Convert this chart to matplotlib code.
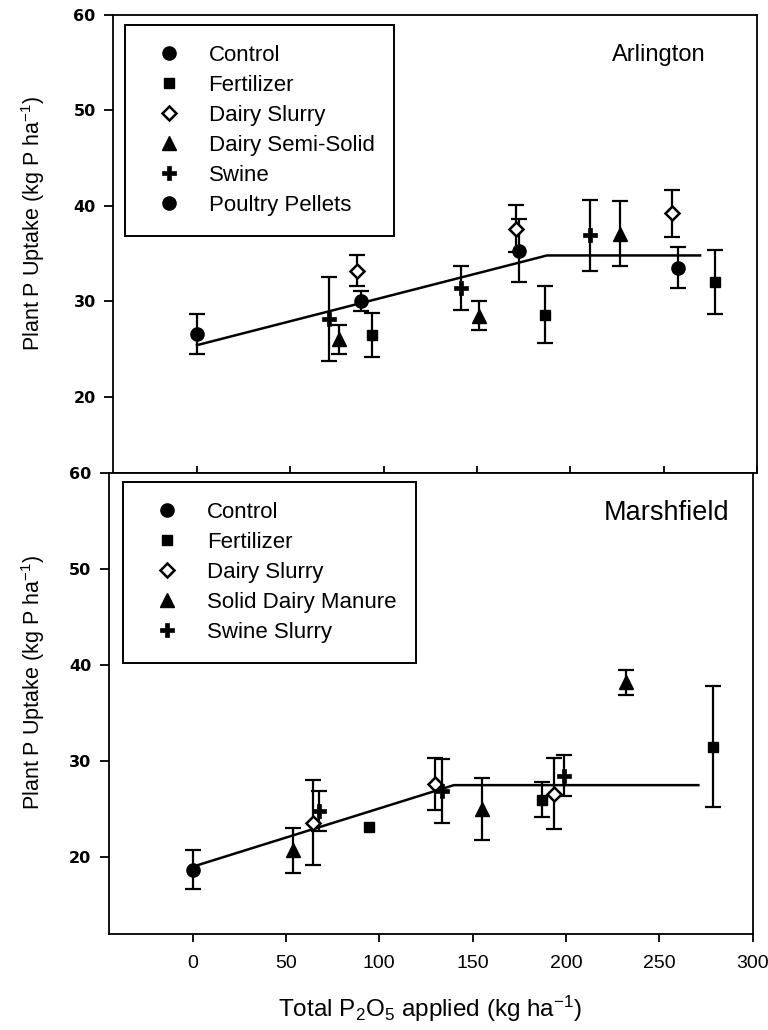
import matplotlib
matplotlib.use("Agg")
import matplotlib.pyplot as plt
from matplotlib.lines import Line2D
import numpy as np

plt.rcParams['font.family'] = ['Liberation Sans', 'DejaVu Sans']
plt.rcParams['mathtext.default'] = 'regular'

# ---------------- data ----------------
# Arlington (top panel)
arl_labels = ["Control", "Fertilizer", "Dairy Slurry", "Dairy Semi-Solid", "Swine", "Poultry Pellets"]
arl_x = [[0], [93.6, 186.3, 277.7], [85.6, 170.7, 254.3], [76.3, 151, 226.4],
         [70.9, 141.5, 210.3], [87.7, 172.5, 257.5]]
arl_y = [[26.6], [26.5, 28.6, 32.0], [33.2, 37.6, 39.2], [26.0, 28.5, 37.1],
         [28.1, 31.4, 36.9], [30.0, 35.3, 33.5]]
arl_err = [[2.1], [2.3, 3.0, 3.35], [1.6, 2.45, 2.45], [1.5, 1.55, 3.4],
           [4.4, 2.3, 3.7], [1.05, 3.3, 2.15]]
arl_fit_x = [0, 187.5, 269.5]
arl_fit_y = [25.4, 34.8, 34.8]

# Marshfield (bottom panel)
mar_labels = ["Control", "Fertilizer", "Dairy Slurry", "Solid Dairy Manure", "Swine Slurry"]
mar_x = [[0], [94.3, 187.2, 279], [64.8, 130, 193.5], [54, 155, 232.3], [67.5, 133.6, 199.2]]
mar_y = [[18.7], [23.1, 26.0, 31.5], [23.6, 27.6, 26.6], [20.7, 25.0, 38.2], [24.8, 26.9, 28.5]]
mar_err = [[2.05], [np.nan, 1.85, 6.3], [4.4, 2.7, 3.7], [2.3, 3.2, 1.3], [2.1, 3.3, 2.1]]
mar_fit_x = [0, 140, 271]
mar_fit_y = [19.0, 27.5, 27.5]

y_ticks = [20, 30, 40, 50, 60]
x_ticks = [0, 50, 100, 150, 200, 250, 300]

# ---------------- styles ----------------
st_circle = dict(marker='o', markersize=9.5, mfc='black', mec='black')
st_square = dict(marker='s', markersize=7.5, mfc='black', mec='black')
st_diamond = dict(marker='D', markersize=7, mfc='white', mec='black', mew=1.8)
st_tri = dict(marker='^', markersize=9.5, mfc='black', mec='black')
st_plus = dict(marker='P', markersize=10, mfc='black', mec='black', mew=0.5)

arl_styles = [st_circle, st_square, st_diamond, st_tri, st_plus, st_circle]
mar_styles = [st_circle, st_square, st_diamond, st_tri, st_plus]

W, H = 768, 1030
fig = plt.figure(figsize=(W / 100, H / 100), dpi=100)
ax1 = fig.add_axes([113 / W, 1 - 473 / H, 644 / W, 458 / H])
ax2 = fig.add_axes([108.5 / W, 1 - 934 / H, 644 / W, 461 / H])


def draw(ax, xs, ys, errs, styles, fx, fy):
    ax.plot(fx, fy, color='black', lw=1.8, zorder=2)
    for x, y, e, st in zip(xs, ys, errs, styles):
        ax.errorbar(x, y, yerr=e, fmt='none', ecolor='black', elinewidth=1.6,
                    capsize=6, capthick=1.6, zorder=3)
        ax.plot(x, y, linestyle='none', zorder=4, **st)
    return [Line2D([], [], linestyle='none', **st) for st in styles]


h1 = draw(ax1, arl_x, arl_y, arl_err, arl_styles, arl_fit_x, arl_fit_y)
h2 = draw(ax2, mar_x, mar_y, mar_err, mar_styles, mar_fit_x, mar_fit_y)

for ax, lx in ((ax1, -0.102), (ax2, -0.095)):
    ax.set_xlim(-45, 300)
    ax.set_ylim(12, 60)
    ax.set_yticks(y_ticks)
    ax.set_xticks(x_ticks)
    for sp in ax.spines.values():
        sp.set_linewidth(1.3)
    ax.tick_params(axis='y', direction='out', length=6.5, width=1.3, pad=6)
    for t in ax.get_yticklabels():
        t.set_fontfamily('DejaVu Sans')
        t.set_fontweight('bold')
        t.set_fontsize(11.5)
    ax.set_ylabel(r"Plant P Uptake (kg P ha$^{-1}$)", fontsize=15.5)
    ax.yaxis.set_label_coords(lx, 0.545)

ax1.tick_params(axis='x', direction='in', length=5, width=1.3, labelbottom=False)
ax2.tick_params(axis='x', direction='out', length=6, width=1.3, pad=9, labelsize=14)
ax2.set_xlabel(r"Total P$_2$O$_5$ applied (kg ha$^{-1}$)", fontsize=17.5, labelpad=16)

ax1.text(0.847, 0.913, "Arlington", transform=ax1.transAxes, ha='center', va='center', fontsize=17)
ax2.text(0.866, 0.913, "Marshfield", transform=ax2.transAxes, ha='center', va='center', fontsize=19.5)

leg_kw = dict(loc='upper left', fontsize=16, frameon=True, fancybox=False, framealpha=1,
              edgecolor='black', borderpad=0.9, labelspacing=0.4, handlelength=2.16,
              handletextpad=0.7, borderaxespad=0, numpoints=1)
lg1 = ax1.legend(h1, arl_labels, bbox_to_anchor=(0.0186, 0.978), **leg_kw)
lg2 = ax2.legend(h2, mar_labels, bbox_to_anchor=(0.023, 0.98), **leg_kw)
for lg in (lg1, lg2):
    lg.get_frame().set_linewidth(1.4)

fig.savefig("out.png", dpi=100)
